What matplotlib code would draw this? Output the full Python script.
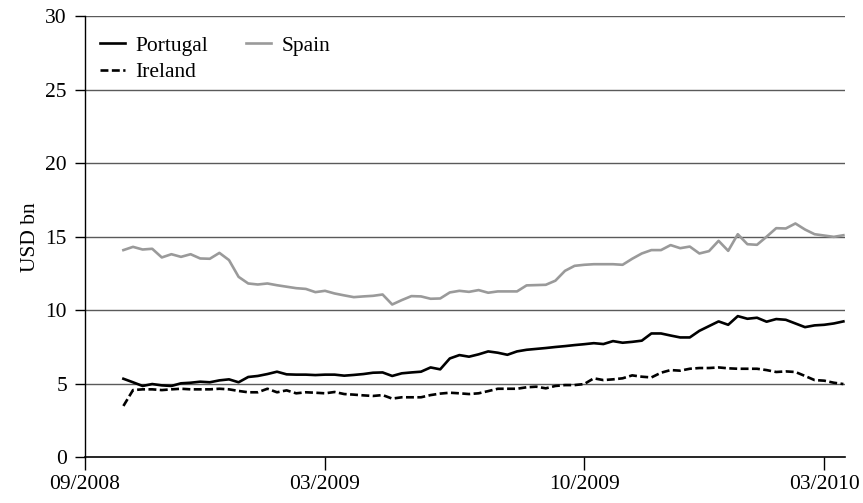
import numpy as np
import matplotlib.pyplot as plt

# weekly observations, USD bn
portugal = [5.34, 5.10, 4.85, 4.98, 4.89, 4.85, 5.03, 5.07, 5.14, 5.10,
            5.23, 5.30, 5.10, 5.46, 5.53, 5.66, 5.82, 5.64, 5.62, 5.62,
            5.59, 5.62, 5.62, 5.55, 5.60, 5.66, 5.75, 5.77, 5.53, 5.71,
            5.77, 5.82, 6.11, 5.98, 6.72, 6.95, 6.84, 7.00, 7.20, 7.11,
            6.97, 7.20, 7.31, 7.37, 7.43, 7.50, 7.56, 7.63, 7.69, 7.76,
            7.70, 7.90, 7.79, 7.85, 7.93, 8.42, 8.42, 8.28, 8.15, 8.15,
            8.60, 8.92, 9.24, 9.01, 9.60, 9.42, 9.49, 9.22, 9.40, 9.35,
            9.10, 8.85, 8.97, 9.01, 9.10, 9.24]
spain = [14.09, 14.31, 14.13, 14.18, 13.59, 13.81, 13.63, 13.81, 13.52, 13.50,
         13.90, 13.41, 12.27, 11.82, 11.75, 11.82, 11.70, 11.60, 11.50, 11.45,
         11.23, 11.32, 11.14, 11.01, 10.89, 10.94, 10.98, 11.07, 10.39, 10.69,
         10.96, 10.94, 10.78, 10.80, 11.21, 11.32, 11.25, 11.37, 11.19, 11.28,
         11.28, 11.28, 11.69, 11.71, 11.73, 12.01, 12.68, 13.02, 13.09, 13.13,
         13.13, 13.13, 13.09, 13.50, 13.86, 14.09, 14.09, 14.43, 14.22, 14.33,
         13.86, 14.02, 14.72, 14.04, 15.17, 14.49, 14.45, 15.00, 15.58, 15.56,
         15.90, 15.49, 15.17, 15.08, 14.99, 15.10]
ireland = [3.49, 4.57, 4.62, 4.62, 4.57, 4.62, 4.66, 4.62, 4.62, 4.62,
           4.66, 4.62, 4.51, 4.42, 4.42, 4.66, 4.42, 4.55, 4.35, 4.42,
           4.39, 4.35, 4.44, 4.30, 4.26, 4.21, 4.17, 4.23, 3.99, 4.08,
           4.08, 4.08, 4.23, 4.33, 4.39, 4.35, 4.30, 4.35, 4.50, 4.66,
           4.66, 4.66, 4.76, 4.80, 4.69, 4.85, 4.91, 4.91, 4.98, 5.37,
           5.25, 5.30, 5.37, 5.57, 5.48, 5.43, 5.75, 5.93, 5.89, 6.02,
           6.07, 6.07, 6.11, 6.05, 6.02, 6.02, 6.02, 5.93, 5.80, 5.84,
           5.80, 5.53, 5.25, 5.21, 5.07, 4.98]

tick_pos = [-4, 21, 48, 73]
tick_labels = ["09/2008", "03/2009", "10/2009", "03/2010"]

plt.rcParams['font.family'] = ['Liberation Serif', 'DejaVu Serif']
plt.rcParams['font.size'] = 15.5

x = np.arange(len(portugal))

fig = plt.figure(figsize=(8.63, 5.03), dpi=100)
ax = fig.add_axes([0.0985, 0.0909, 0.881, 0.877])

for yv in range(5, 31, 5):
    ax.axhline(yv, color='#5a5a5a', lw=1.0, zorder=1)

ax.plot(x, portugal, color='black', lw=1.9, label='Portugal', zorder=3)
ax.plot(x, ireland, color='black', lw=1.9, linestyle=(0, (3.0, 1.3)), label='Ireland', zorder=3)
ax.plot(x, spain, color='#9a9a9a', lw=1.9, label='Spain', zorder=2)

ax.set_xlim(-4, 75.2)
ax.set_ylim(0, 30)
ax.set_yticks(range(0, 31, 5))
ax.set_xticks(tick_pos)
ax.set_xticklabels(tick_labels)
ax.set_ylabel('USD bn', labelpad=4)

for s in ['top', 'right']:
    ax.spines[s].set_visible(False)
ax.spines['left'].set_linewidth(1.0)
ax.spines['bottom'].set_linewidth(1.2)
ax.tick_params(axis='y', length=7, width=1.0, pad=6)
ax.tick_params(axis='x', length=9, width=1.0, pad=4)

ax.legend(loc='upper left', ncol=2, frameon=False, handlelength=1.15,
          handletextpad=0.5, columnspacing=1.75, labelspacing=0.3,
          borderaxespad=0.3, bbox_to_anchor=(0.0, 0.99))

fig.savefig('out.png', dpi=100)
